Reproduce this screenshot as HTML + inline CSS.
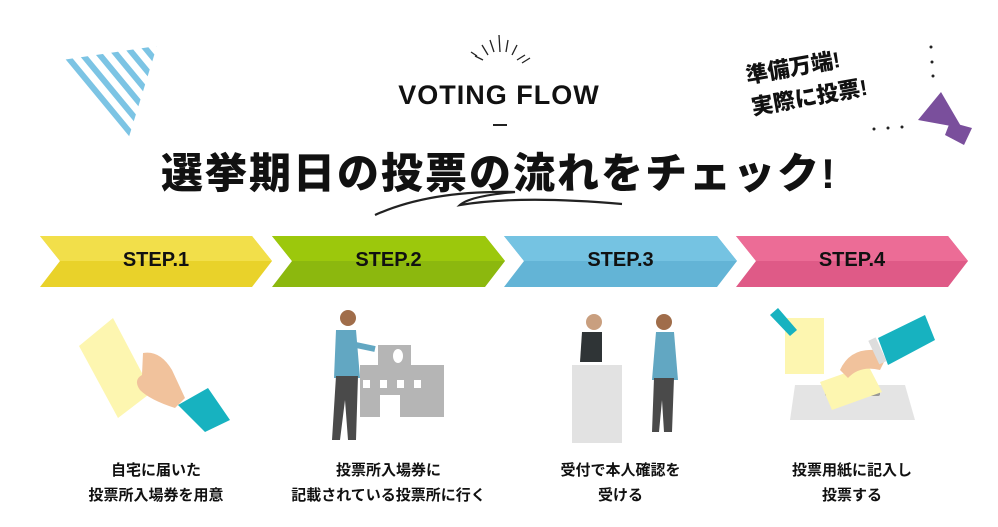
<!DOCTYPE html>
<html><head><meta charset="utf-8"><style>
body{margin:0;width:998px;height:527px;background:#fff;overflow:hidden;position:relative;font-family:"Liberation Sans","Noto Sans CJK JP",sans-serif}
.t{position:absolute;text-align:center;color:#111;font-weight:bold}
</style></head><body>
<svg width="998" height="527" style="position:absolute;left:0;top:0">
<defs><clipPath id="tri"><polygon points="62,60 157,46 128,140"/></clipPath></defs>
<g clip-path="url(#tri)" stroke="#7cc4e4" stroke-width="6">
<line x1="20" y1="20" x2="120" y2="141"/><line x1="37" y1="20" x2="137" y2="141"/><line x1="54" y1="20" x2="154" y2="141"/><line x1="71" y1="20" x2="171" y2="141"/><line x1="88" y1="20" x2="188" y2="141"/><line x1="105" y1="20" x2="205" y2="141"/><line x1="122" y1="20" x2="222" y2="141"/><line x1="139" y1="20" x2="239" y2="141"/>
</g>
<!-- burst -->
<g stroke="#222" stroke-width="1.3">
<line x1="477" y1="56" x2="471" y2="52"/><line x1="483" y1="60" x2="475" y2="56"/><line x1="488" y1="55" x2="482" y2="45"/><line x1="494" y1="52" x2="490" y2="40"/><line x1="500" y1="52" x2="499" y2="35"/><line x1="506" y1="52" x2="508" y2="40"/><line x1="512" y1="55" x2="517" y2="45"/><line x1="517" y1="60" x2="525" y2="55"/><line x1="522" y1="63" x2="530" y2="58"/>
</g>
<line x1="493" y1="125" x2="507" y2="125" stroke="#222" stroke-width="2"/>
<path d="M375 215 Q430 190 515 192 Q470 196 460 205 Q520 195 622 204" fill="none" stroke="#222" stroke-width="2.2"/>
<!-- megaphone -->
<polygon points="941,92 918,120 962,128" fill="#7a4f9c"/>
<polygon points="950,122 972,128 964,145 945,135" fill="#7a4f9c"/>
<g fill="#222"><circle cx="931" cy="47" r="1.5"/><circle cx="932" cy="62" r="1.5"/><circle cx="933" cy="76" r="1.5"/><circle cx="874" cy="129" r="1.5"/><circle cx="888" cy="128" r="1.5"/><circle cx="902" cy="127" r="1.5"/></g>
<g>
<polygon points="40,236 252,236 272,261 252,287 40,287 60,261" fill="#e9d22a"/>
<polygon points="40,236 252,236 272,261 60,261" fill="#f2df4a"/>
<polygon points="272,236 485,236 505,261 485,287 272,287 292,261" fill="#8cb80e"/>
<polygon points="272,236 485,236 505,261 292,261" fill="#9cc80c"/>
<polygon points="504,236 717,236 737,261 717,287 504,287 524,261" fill="#63b4d6"/>
<polygon points="504,236 717,236 737,261 524,261" fill="#75c3e2"/>
<polygon points="736,236 948,236 968,261 948,287 736,287 756,261" fill="#df5a87"/>
<polygon points="736,236 948,236 968,261 756,261" fill="#ec6c96"/>
</g>
<!-- step1 -->
<polygon points="113,318 79,346 118,418 152,392" fill="#fdf6b0"/>
<path d="M143,353 Q160,350 172,370 L185,398 L175,408 Q150,400 140,390 Q133,380 142,375 Z" fill="#f1c29c"/>
<polygon points="178,405 208,388 230,420 205,432" fill="#17b2c0"/>
<!-- step2 -->
<rect x="378" y="345" width="33" height="30" fill="#b5b5b5"/>
<rect x="360" y="365" width="84" height="52" fill="#b5b5b5"/>
<rect x="380" y="395" width="20" height="22" fill="#fff"/>
<ellipse cx="398" cy="356" rx="5" ry="7" fill="#fff"/>
<g fill="#fff"><rect x="363" y="380" width="7" height="8"/><rect x="380" y="380" width="7" height="8"/><rect x="397" y="380" width="7" height="8"/><rect x="414" y="380" width="7" height="8"/></g>
<circle cx="348" cy="318" r="8" fill="#a06d4a"/>
<path d="M336 330 L356 330 L360 378 L334 378 Z" fill="#62a7c2"/>
<line x1="356" y1="345" x2="375" y2="349" stroke="#62a7c2" stroke-width="6"/>
<path d="M336 376 L358 376 L356 440 L348 440 L345 400 L340 440 L332 440 Z" fill="#4a4a4a"/>
<!-- step3 -->
<rect x="572" y="365" width="50" height="78" fill="#e2e2e2"/>
<circle cx="594" cy="322" r="8" fill="#c99f7f"/>
<path d="M582 332 L602 332 L602 362 L580 362 Z" fill="#2f3436"/>
<circle cx="664" cy="322" r="8" fill="#a06d4a"/>
<path d="M656 332 L674 332 L678 380 L652 380 Z" fill="#62a7c2"/>
<path d="M654 378 L674 378 L672 432 L664 432 L662 400 L659 432 L652 432 Z" fill="#4a4a4a"/>
<!-- step4 -->
<rect x="785" y="318" width="39" height="56" fill="#fdf6b0"/>
<polygon points="770,315 778,308 797,330 790,336" fill="#17b2c0"/>
<polygon points="795,385 905,385 915,420 790,420" fill="#e4e4e4"/>
<rect x="825" y="391" width="55" height="5" rx="2" fill="#999"/>
<polygon points="820,382 868,365 882,392 832,410" fill="#fdf6b0"/>
<path d="M840 370 Q850 348 875 350 L885 360 L880 370 Q860 365 848 378 Z" fill="#f1c29c"/>
<polygon points="878,338 925,315 935,340 888,365" fill="#17b2c0"/>
<rect x="873" y="338" width="8" height="26" fill="#ddd" transform="rotate(-25 877 350)"/>
</svg>
<div class="t" style="left:0;width:998px;top:80px;font-size:27px;letter-spacing:1px">VOTING FLOW</div>
<div class="t" style="left:0;width:998px;top:140px;font-size:42px;font-weight:900;letter-spacing:2px">選挙期日の投票の流れをチェック!</div>
<div class="t" style="left:748px;top:50px;font-size:22px;font-weight:900;transform:rotate(-10deg);text-align:left;line-height:32px">準備万端!<br>実際に投票!</div>
<div class="t" style="left:40px;width:232px;top:249px;font-size:20px;font-weight:900">STEP.1</div>
<div class="t" style="left:272px;width:233px;top:249px;font-size:20px;font-weight:900">STEP.2</div>
<div class="t" style="left:504px;width:233px;top:249px;font-size:20px;font-weight:900">STEP.3</div>
<div class="t" style="left:736px;width:232px;top:249px;font-size:20px;font-weight:900">STEP.4</div>
<div class="t" style="left:40px;width:232px;top:458px;font-size:15px;line-height:25px">自宅に届いた<br>投票所入場券を用意</div>
<div class="t" style="left:262px;width:253px;top:458px;font-size:15px;line-height:25px">投票所入場券に<br>記載されている投票所に行く</div>
<div class="t" style="left:504px;width:233px;top:458px;font-size:15px;line-height:25px">受付で本人確認を<br>受ける</div>
<div class="t" style="left:736px;width:232px;top:458px;font-size:15px;line-height:25px">投票用紙に記入し<br>投票する</div>
</body></html>
